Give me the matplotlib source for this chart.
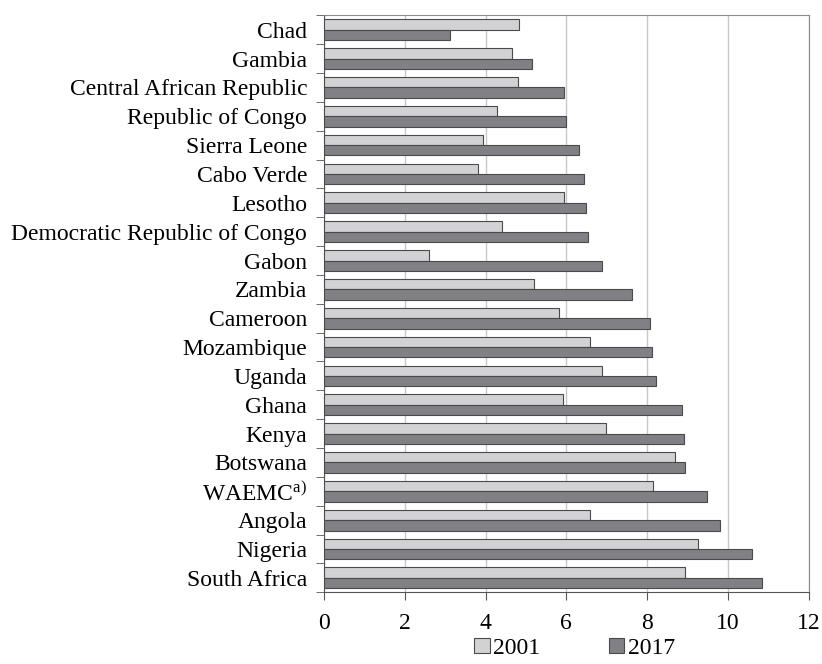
import numpy as np
import matplotlib
matplotlib.use("Agg")
import matplotlib.pyplot as plt

plt.rcParams["font.family"] = ["Liberation Serif", "DejaVu Serif"]
plt.rcParams["mathtext.fontset"] = "custom"
plt.rcParams["mathtext.rm"] = "Liberation Serif"
plt.rcParams["mathtext.it"] = "Liberation Serif:italic"

countries = [
    "Chad", "Gambia", "Central African Republic", "Republic of Congo",
    "Sierra Leone", "Cabo Verde", "Lesotho", "Democratic Republic of Congo",
    "Gabon", "Zambia", "Cameroon", "Mozambique", "Uganda", "Ghana", "Kenya",
    "Botswana", "WAEMC$^{\\mathrm{a)}}$", "Angola", "Nigeria", "South Africa",
]
v2001 = [4.83, 4.66, 4.81, 4.28, 3.94, 3.81, 5.95, 4.41, 2.59, 5.21,
         5.82, 6.58, 6.89, 5.92, 6.98, 8.69, 8.15, 6.59, 9.25, 8.93]
v2017 = [3.13, 5.14, 5.93, 5.98, 6.31, 6.43, 6.49, 6.54, 6.89, 7.63,
         8.08, 8.12, 8.22, 8.85, 8.91, 8.93, 9.49, 9.81, 10.59, 10.84]
xticks = [0, 2, 4, 6, 8, 10, 12]

fig = plt.figure(figsize=(8.22, 6.64), dpi=100)
ax = fig.add_axes([0.394, 0.108, 0.590, 0.869])

y = np.arange(len(countries))
h = 0.36
ax.barh(y - h / 2, v2001, height=h, color="#d2d2d4", edgecolor="#4a4a4a",
        linewidth=0.8, label="2001", zorder=3)
ax.barh(y + h / 2, v2017, height=h, color="#818185", edgecolor="#4a4a4a",
        linewidth=0.8, label="2017", zorder=3)

ax.set_xlim(0, 12)
ax.set_ylim(len(countries) - 0.5, -0.5)
ax.set_xticks(xticks)
ax.set_yticks(y)
ax.set_yticklabels(countries, fontsize=17)
ax.set_yticks(np.arange(-0.5, len(countries) + 0.5, 1), minor=True)
ax.tick_params(axis="y", which="major", length=0, pad=12)
ax.tick_params(axis="y", which="minor", length=6, color="#555555")
ax.tick_params(axis="x", length=6, color="#555555", labelsize=17, pad=9)
ax.xaxis.grid(True, color="#c8c8c8", linewidth=1, zorder=0)

for side in ["top", "right"]:
    ax.spines[side].set_color("#8a8a8a")
for side in ["left", "bottom"]:
    ax.spines[side].set_color("#555555")

fig.legend(loc="lower center", bbox_to_anchor=(0.699, -0.024), ncol=2,
           frameon=False, fontsize=17, handlelength=0.65, handleheight=0.65,
           handletextpad=0.15, columnspacing=2.9)

fig.savefig("out.png", dpi=100)
